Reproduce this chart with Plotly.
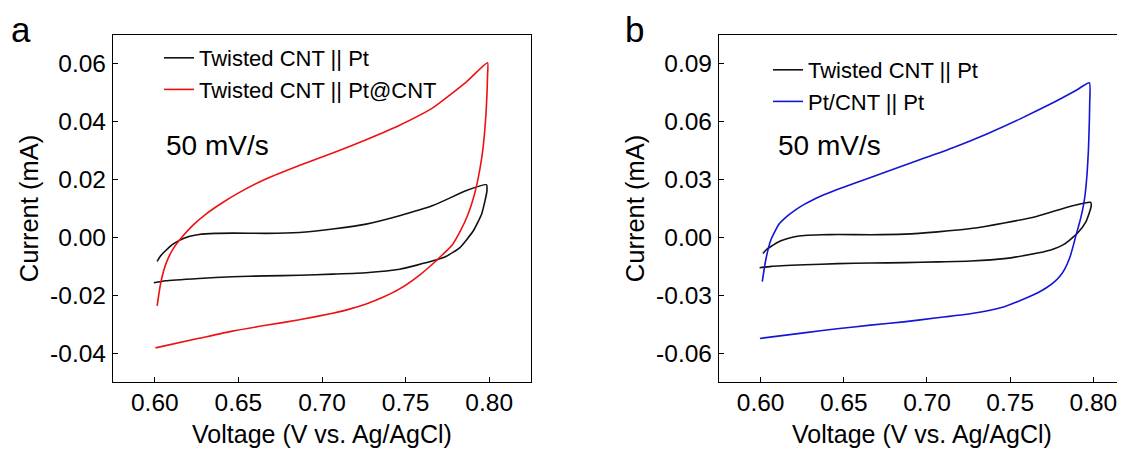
import plotly.graph_objects as go

# Twisted CNT || Pt (same curve drawn in both panels)
black_v = [0.6014, 0.6034, 0.6064, 0.6104, 0.6144, 0.6204, 0.6264, 0.6364, 0.6464, 0.6664, 0.6864,
           0.7064, 0.7264, 0.7464, 0.7663, 0.7864, 0.7984, 0.7987, 0.7984, 0.7975, 0.7955, 0.7905,
           0.7825, 0.7744, 0.7664, 0.7465, 0.7264, 0.7064, 0.6864, 0.6664, 0.6464, 0.6264, 0.6064, 0.5994]
black_i = [-0.0083, -0.0064, -0.0046, -0.0025, -0.0011, 0.0003, 0.0010, 0.0014, 0.0015, 0.0014, 0.0017,
           0.0029, 0.0046, 0.0075, 0.0110, 0.0162, 0.0182, 0.0165, 0.0151, 0.0127, 0.0081, 0.0023,
           -0.0035, -0.0065, -0.0081, -0.0110, -0.0122, -0.0127, -0.0131, -0.0133, -0.0136, -0.0142, -0.0150, -0.0157]

# Twisted CNT || Pt@CNT (panel a)
red_v = [0.6014, 0.6034, 0.6064, 0.6104, 0.6154, 0.6224, 0.6304, 0.6404, 0.6504, 0.6664, 0.6864, 0.7064,
         0.7264, 0.7464, 0.7664, 0.7864, 0.7990, 0.7990, 0.7987, 0.7981, 0.7972, 0.7960, 0.7944, 0.7925,
         0.7900, 0.7870, 0.7830, 0.7780, 0.7720, 0.7675, 0.7584, 0.7464, 0.7364, 0.7264, 0.7164, 0.7064,
         0.6864, 0.6664, 0.6464, 0.6264, 0.6004]
red_i = [-0.0237, -0.0162, -0.0095, -0.0045, -0.0005, 0.0040, 0.0080, 0.0120, 0.0155, 0.0202, 0.0249, 0.0292,
         0.0338, 0.0388, 0.0449, 0.0538, 0.0604, 0.0560, 0.0500, 0.0430, 0.0360, 0.0295, 0.0235, 0.0180,
         0.0125, 0.0075, 0.0025, -0.0025, -0.0060, -0.0085, -0.0130, -0.0178, -0.0207, -0.0230, -0.0248, -0.0262,
         -0.0285, -0.0304, -0.0324, -0.0349, -0.0382]

# Pt/CNT || Pt (panel b)
blue_v = [0.6010, 0.6030, 0.6060, 0.6110, 0.6160, 0.6210, 0.6260, 0.6310, 0.6360, 0.6460, 0.6560, 0.6760,
          0.6960, 0.7160, 0.7360, 0.7560, 0.7760, 0.7900, 0.7976, 0.7978, 0.7975, 0.7970, 0.7962, 0.7950,
          0.7940, 0.7925, 0.7910, 0.7895, 0.7880, 0.7860, 0.7830, 0.7800, 0.7760, 0.7720, 0.7660, 0.7600,
          0.7460, 0.7260, 0.7060, 0.6860, 0.6660, 0.6460, 0.6260, 0.5996]
blue_i = [-0.0229, -0.0121, -0.0017, 0.0068, 0.0110, 0.0143, 0.0170, 0.0193, 0.0213, 0.0248, 0.0280, 0.0342,
          0.0404, 0.0467, 0.0537, 0.0615, 0.0700, 0.0765, 0.0802, 0.0700, 0.0580, 0.0450, 0.0330, 0.0220,
          0.0165, 0.0105, 0.0055, 0.0010, -0.0040, -0.0100, -0.0160, -0.0200, -0.0235, -0.0260, -0.0290, -0.0313,
          -0.0361, -0.0396, -0.0417, -0.0438, -0.0455, -0.0474, -0.0495, -0.0524]

x_ticks = [0.60, 0.65, 0.70, 0.75, 0.80]
x_ticktext = ["0.60", "0.65", "0.70", "0.75", "0.80"]
ya_ticks = [-0.04, -0.02, 0.0, 0.02, 0.04, 0.06]
ya_ticktext = ["-0.04", "-0.02", "0.00", "0.02", "0.04", "0.06"]
yb_ticks = [-0.06, -0.03, 0.0, 0.03, 0.06, 0.09]
yb_ticktext = ["-0.06", "-0.03", "0.00", "0.03", "0.06", "0.09"]

FONT = "Liberation Sans, Arial, sans-serif"
# the page body keeps its 8px margin, so the figure is 8px smaller each way
W, H = 1117, 444

fig = go.Figure()

line_kw = dict(width=1.6, shape="spline", smoothing=0.5)
fig.add_trace(go.Scatter(x=black_v, y=black_i, mode="lines", name="Twisted CNT || Pt",
                         line=dict(color="#111111", **line_kw),
                         xaxis="x", yaxis="y", legend="legend"))
fig.add_trace(go.Scatter(x=red_v, y=red_i, mode="lines", name="Twisted CNT || Pt@CNT",
                         line=dict(color="#ee1111", **line_kw),
                         xaxis="x", yaxis="y", legend="legend"))
fig.add_trace(go.Scatter(x=black_v, y=black_i, mode="lines", name="Twisted CNT || Pt",
                         line=dict(color="#111111", **line_kw),
                         xaxis="x2", yaxis="y2", legend="legend2"))
fig.add_trace(go.Scatter(x=blue_v, y=blue_i, mode="lines", name="Pt/CNT || Pt",
                         line=dict(color="#1414d4", **line_kw),
                         xaxis="x2", yaxis="y2", legend="legend2"))

axis_style = dict(
    showline=True, linecolor="black", linewidth=1.3, mirror=True,
    ticks="inside", ticklen=5, tickwidth=1.2, tickcolor="black",
    showgrid=False, zeroline=False,
    tickfont=dict(family=FONT, size=24.5, color="black"),
)
x_title = dict(text="Voltage (V vs. Ag/AgCl)", font=dict(size=25), standoff=10)
y_title = dict(text="Current (mA)", font=dict(size=25.5), standoff=4)

y_top = 1 - 27 / H
y_bot = 1 - 374 / H

fig.update_layout(
    width=W, height=H,
    margin=dict(l=0, r=0, t=0, b=0),
    paper_bgcolor="white", plot_bgcolor="white",
    font=dict(family=FONT, color="black"),
    xaxis=dict(axis_style, domain=[105 / W, 523 / W], range=[0.575, 0.825], anchor="y",
               tickvals=x_ticks, ticktext=x_ticktext, ticklabelstandoff=-2, title=x_title),
    yaxis=dict(axis_style, domain=[y_bot, y_top], range=[-0.05, 0.07], anchor="x",
               tickvals=ya_ticks, ticktext=ya_ticktext, ticklabelstandoff=1, title=y_title),
    xaxis2=dict(axis_style, domain=[711 / W, 1.0], range=[0.575, 0.819], anchor="y2",
                tickvals=x_ticks, ticktext=x_ticktext, ticklabelstandoff=-2, title=x_title),
    yaxis2=dict(axis_style, domain=[y_bot, y_top], range=[-0.075, 0.105], anchor="x2",
                tickvals=yb_ticks, ticktext=yb_ticktext, ticklabelstandoff=1, title=y_title),
    legend=dict(x=151 / W, y=1 - 29 / H, xanchor="left", yanchor="top",
                bgcolor="rgba(0,0,0,0)", font=dict(size=22), tracegroupgap=0),
    legend2=dict(x=760 / W, y=1 - 41 / H, xanchor="left", yanchor="top",
                 bgcolor="rgba(0,0,0,0)", font=dict(size=22), tracegroupgap=0),
    showlegend=True,
)

fig.add_annotation(text="a", x=12.5 / W, y=1, xref="paper", yref="paper",
                   showarrow=False, font=dict(size=35), xanchor="center", yanchor="top")
fig.add_annotation(text="b", x=626 / W, y=1, xref="paper", yref="paper",
                   showarrow=False, font=dict(size=35), xanchor="center", yanchor="top")
fig.add_annotation(text="50 mV/s", x=156 / W, y=1 - 137 / H, xref="paper", yref="paper",
                   showarrow=False, font=dict(size=28), xanchor="left", yanchor="middle")
fig.add_annotation(text="50 mV/s", x=768 / W, y=1 - 137 / H, xref="paper", yref="paper",
                   showarrow=False, font=dict(size=28), xanchor="left", yanchor="middle")

fig.write_html("out.html")
